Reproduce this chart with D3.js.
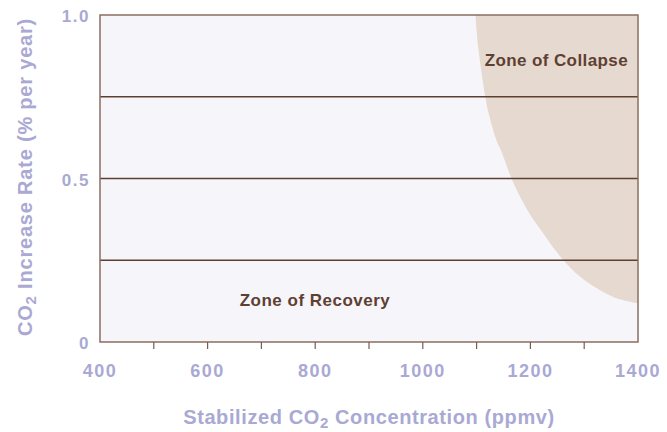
<!DOCTYPE html>
<html>
<head>
<meta charset="utf-8">
<script src="https://cdn.jsdelivr.net/npm/d3@7"></script>
<style>
body { margin: 0; background: #fff; }
text { font-family: "Liberation Sans", Arial, sans-serif; font-weight: bold; }
</style>
</head>
<body>
<script>
// axis ticks
var xTicks = [400, 600, 800, 1000, 1200, 1400];
var xMinor = [500, 600, 700, 800, 900, 1000, 1100, 1200, 1300];
var yTicks = [0, 0.5, 1.0];
var yTickLabels = ['0', '0.5', '1.0'];
var gridVals = [0.25, 0.5, 0.75];

// edge of the collapse zone (concentration, rate)
var edgeConc = [1098, 1103, 1116, 1121, 1136, 1145, 1165, 1184, 1202, 1224, 1246, 1261, 1292, 1329, 1360, 1400];
var edgeRate = [1.0, 0.902, 0.752, 0.709, 0.621, 0.587, 0.5, 0.434, 0.383, 0.332, 0.281, 0.251, 0.2, 0.159, 0.134, 0.118];

var width = 667, height = 432;
var pLeft = 100, pRight = 638, pTop = 15, pBottom = 342;

var svg = d3.select('body').append('svg')
	.attr('width', width)
	.attr('height', height);

var x = d3.scaleLinear().domain([400, 1400]).range([pLeft, pRight]);
var y = d3.scaleLinear().domain([0, 1]).range([pBottom, pTop]);

var labelColor = '#a9a9d4';
var brown = '#5e4032';

svg.append('rect')
	.attr('x', pLeft)
	.attr('y', pTop)
	.attr('width', pRight - pLeft)
	.attr('height', pBottom - pTop)
	.attr('fill', '#f6f5fa');

var edge = edgeConc.map(function(c, i) { return {c: c, r: edgeRate[i]}; });

var area = d3.area()
	.y(function(d) { return y(d.r); })
	.x0(function(d) { return x(d.c); })
	.x1(x(1400))
	.curve(d3.curveCatmullRom);

svg.append('path')
	.datum(edge)
	.attr('d', area)
	.attr('fill', '#e6d9cf');

svg.selectAll('.grid')
	.data(gridVals)
	.enter().append('line')
	.attr('x1', pLeft)
	.attr('x2', pRight)
	.attr('y1', function(d) { return y(d); })
	.attr('y2', function(d) { return y(d); })
	.attr('stroke', brown)
	.attr('stroke-width', 1.3);

svg.append('rect')
	.attr('x', pLeft)
	.attr('y', pTop)
	.attr('width', pRight - pLeft)
	.attr('height', pBottom - pTop)
	.attr('fill', 'none')
	.attr('stroke', '#8a6e62')
	.attr('stroke-width', 1.5);

svg.selectAll('.xtick')
	.data(xMinor)
	.enter().append('line')
	.attr('x1', function(d) { return x(d); })
	.attr('x2', function(d) { return x(d); })
	.attr('y1', pBottom)
	.attr('y2', pBottom + 7)
	.attr('stroke', '#7a5c4f')
	.attr('stroke-width', 1.2);

svg.selectAll('.xlab')
	.data(xTicks)
	.enter().append('text')
	.attr('x', function(d) { return x(d); })
	.attr('y', 377)
	.attr('text-anchor', 'middle')
	.attr('font-size', 18)
	.attr('letter-spacing', 1.5)
	.attr('fill', labelColor)
	.text(function(d) { return d; });

svg.selectAll('.ylab')
	.data(yTicks)
	.enter().append('text')
	.attr('x', 90)
	.attr('y', function(d) { return y(d) + 7; })
	.attr('text-anchor', 'end')
	.attr('font-size', 17)
	.attr('letter-spacing', 1.5)
	.attr('fill', labelColor)
	.text(function(d, i) { return yTickLabels[i]; });

// x title
var xt = svg.append('text')
	.attr('x', 369)
	.attr('y', 424)
	.attr('text-anchor', 'middle')
	.attr('font-size', 20)
	.attr('letter-spacing', 0.6)
	.attr('fill', labelColor);
xt.append('tspan').text('Stabilized CO');
xt.append('tspan').attr('font-size', 15).attr('dy', 4).text('2');
xt.append('tspan').attr('dy', -4).text(' Concentration (ppmv)');

// y title
var yt = svg.append('text')
	.attr('transform', 'translate(32,177) rotate(-90)')
	.attr('text-anchor', 'middle')
	.attr('font-size', 20)
	.attr('letter-spacing', 0.8)
	.attr('fill', labelColor);
yt.append('tspan').text('CO');
yt.append('tspan').attr('font-size', 15).attr('dy', 4).text('2');
yt.append('tspan').attr('dy', -4).text(' Increase Rate (% per year)');

svg.append('text')
	.attr('x', 628)
	.attr('y', 66)
	.attr('text-anchor', 'end')
	.attr('font-size', 17)
	.attr('letter-spacing', 0.4)
	.attr('fill', brown)
	.text('Zone of Collapse');

svg.append('text')
	.attr('x', 315)
	.attr('y', 306)
	.attr('text-anchor', 'middle')
	.attr('font-size', 17)
	.attr('letter-spacing', 0.5)
	.attr('fill', brown)
	.text('Zone of Recovery');
</script>
</body>
</html>
